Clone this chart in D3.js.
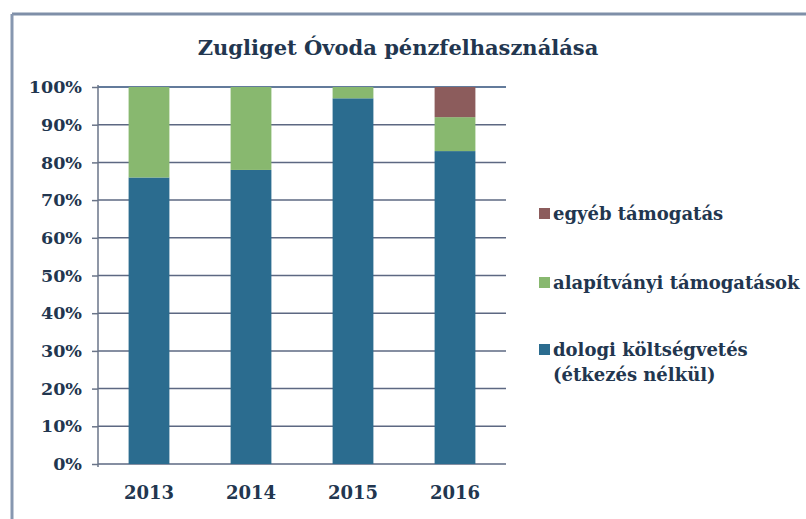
<!DOCTYPE html>
<html><head><meta charset="utf-8">
<script src="https://cdn.jsdelivr.net/npm/d3@7"></script>
<style>body{margin:0;background:#fff}svg text{font-family:"DejaVu Serif",serif;font-weight:bold;fill:#22364f}</style>
</head><body>
<svg id="c" width="806" height="519"></svg>
<script>
const years = ["2013","2014","2015","2016"];
const dologi = [76, 78, 97, 83];
const alapitvanyi = [24, 22, 3, 9];
const egyeb = [0, 0, 0, 8];
const seriesNames = ["dologi költségvetés", "alapítványi támogatások", "egyéb támogatás"];
const yTicks = [0,10,20,30,40,50,60,70,80,90,100];
const colors = ["#2b6c8f", "#88b86f", "#8c5c5c"];

const svg = d3.select("#c");
// frame
svg.append("line").attr("x1",12).attr("x2",806).attr("y1",14).attr("y2",14).attr("stroke","#7f8fa8").attr("stroke-width",3);
svg.append("line").attr("x1",12).attr("x2",12).attr("y1",14).attr("y2",519).attr("stroke","#8797b0").attr("stroke-width",3);

svg.append("text").attr("x",398).attr("y",55).attr("text-anchor","middle").style("font-size","21px").text("Zugliget Óvoda pénzfelhasználása");

const x = d3.scaleBand().domain(years).range([98,506]).paddingInner(0.6).paddingOuter(0.3);
const y = d3.scaleLinear().domain([0,100]).range([464,87]);

const data = years.map((yr,i)=>({year:yr, d:dologi[i], a:alapitvanyi[i], e:egyeb[i]}));
const stack = d3.stack().keys(["d","a","e"])(data);

const g = svg.append("g").attr("transform","translate(98,0)");
g.call(d3.axisLeft(y).tickValues(yTicks).tickSize(6).tickFormat(d=>d+"%"))
 .call(s=>s.select(".domain").remove())
 .call(s=>s.selectAll(".tick line").attr("stroke","#6a7488").attr("stroke-width",1.5))
 .call(s=>s.selectAll(".tick text").attr("x",-16).style("font-size","17.5px"));
svg.append("g").selectAll("line").data(yTicks).join("line")
  .attr("x1",98).attr("x2",506).attr("y1",d=>y(d)).attr("y2",d=>y(d))
  .attr("stroke",d=>d===100?"#2f4f7a":"#5d6882").attr("stroke-width",1.5);
svg.append("line").attr("x1",98).attr("x2",98).attr("y1",y(100)-2).attr("y2",y(0)+3).attr("stroke","#6a7488").attr("stroke-width",1.5);

svg.append("g").selectAll("g").data(stack).join("g").attr("fill",(d,i)=>colors[i])
  .selectAll("rect").data(d=>d).join("rect")
  .attr("x",d=>x(d.data.year)).attr("width",x.bandwidth())
  .attr("y",d=>y(d[1])).attr("height",d=>y(d[0])-y(d[1]));

const xa = svg.append("g").attr("transform","translate(0,464)")
  .call(d3.axisBottom(x).tickSize(0).tickPadding(22));
xa.select(".domain").remove();
xa.selectAll("text").style("font-size","18px");

const leg = [
  {i:2, lines:["egyéb támogatás"], y:220},
  {i:1, lines:["alapítványi támogatások"], y:289},
  {i:0, lines:["dologi költségvetés","(étkezés nélkül)"], y:356}
];
leg.forEach(l=>{
  svg.append("rect").attr("x",539).attr("y",l.y-12).attr("width",11).attr("height",11).attr("fill",colors[l.i]);
  l.lines.forEach((t,k)=>{
    svg.append("text").attr("x",553).attr("y",l.y+k*25).style("font-size","18px").text(t);
  });
});
</script>
</body></html>
